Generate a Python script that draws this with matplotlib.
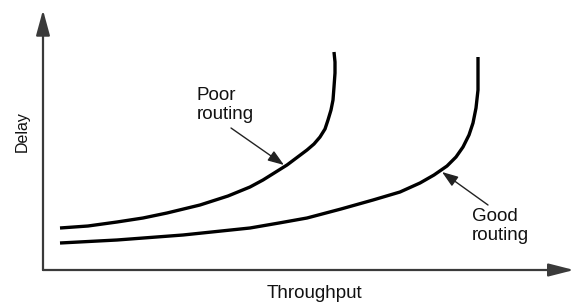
import matplotlib
matplotlib.use("Agg")
import matplotlib.pyplot as plt

# Data (arbitrary units: throughput, delay)
poor_x = [17, 45, 74, 100, 124, 157, 185, 207, 220, 244, 264, 271, 277, 282, 285, 288, 290, 291, 292, 292, 291]
poor_y = [42, 44, 48, 52, 57, 65, 74, 83, 90, 105, 120, 126, 133, 141, 150, 160, 170, 183, 197, 208, 218]
good_x = [17, 74, 140, 207, 236, 264, 298, 330, 357, 377, 391, 404, 413, 420, 426, 430, 433, 435, 435, 435]
good_y = [27, 30, 35, 42, 47, 52, 61, 70, 78, 87, 95, 104, 113, 123, 135, 147, 162, 180, 197, 213]

labels = ["Poor\nrouting", "Good\nrouting"]
label_xy = [(154, 183), (429, 62)]
arrow_tips = [(241, 105), (399, 98)]
arrow_tails = [(188, 142), (445, 65)]

plt.rcParams['font.family'] = ['Liberation Sans', 'DejaVu Sans']

fig = plt.figure(figsize=(5.76, 3.03), dpi=100)
ax = fig.add_axes([0, 0, 1, 1])
ax.set_xlim(-43, 533)
ax.set_ylim(-33, 270)
ax.axis('off')

# Axes with arrows
ax.annotate('', xy=(531, 0), xytext=(0, 0),
            arrowprops=dict(arrowstyle='-|>,head_length=1.1,head_width=0.28',
                            color='#3a3a3a', lw=1.6, mutation_scale=14,
                            shrinkA=0, shrinkB=0))
ax.annotate('', xy=(0, 260), xytext=(0, 0),
            arrowprops=dict(arrowstyle='-|>,head_length=1.1,head_width=0.3',
                            color='#3a3a3a', lw=1.6, mutation_scale=14,
                            shrinkA=0, shrinkB=0))

ax.plot(poor_x, poor_y, color='black', lw=2.4, solid_capstyle='butt',
        solid_joinstyle='round')
ax.plot(good_x, good_y, color='black', lw=2.4, solid_capstyle='butt',
        solid_joinstyle='round')

for lab, (tx, ty), tip, tail in zip(labels, label_xy, arrow_tips, arrow_tails):
    ax.text(tx, ty, lab, fontsize=13.5, ha='left', va='top',
            linespacing=1.15, color='#111111')
    ax.annotate('', xy=tip, xytext=tail,
                arrowprops=dict(arrowstyle='-|>,head_length=0.7,head_width=0.25',
                                color='#222222', lw=1.0, mutation_scale=14,
                                shrinkA=0, shrinkB=0))

ax.text(271, -23, "Throughput", fontsize=13.5, ha='center', va='center',
        color='#111111')
ax.text(-21, 138, "Delay", fontsize=11.5, ha='center', va='center',
        rotation=90, color='#111111')

fig.savefig("out.png", dpi=100)
